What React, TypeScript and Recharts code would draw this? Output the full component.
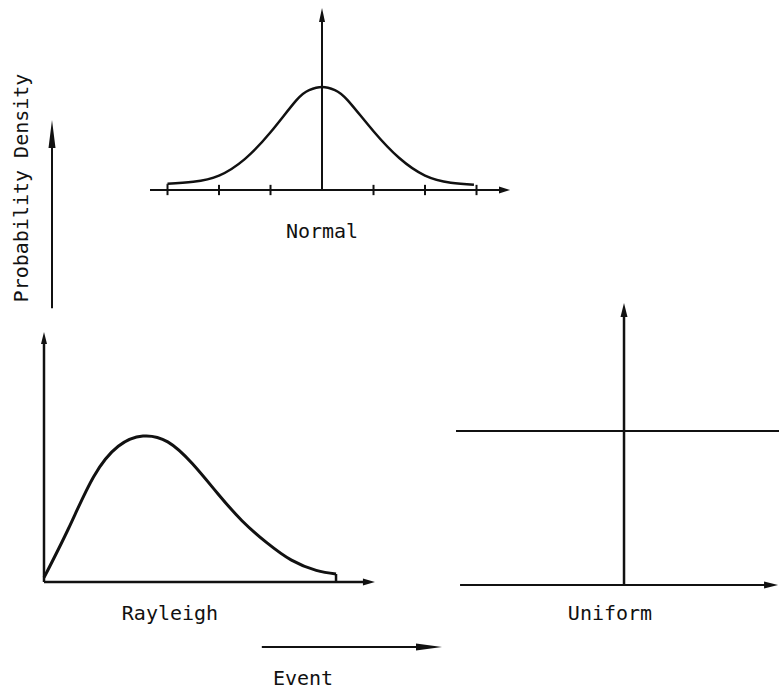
import React from 'react'
import { LineChart, Line, XAxis, YAxis, ReferenceLine } from 'recharts'

const W = 779
const H = 692
const INK = '#111'
const FONT = '"DejaVu Sans Mono", "Liberation Mono", monospace'

// Normal: x in standard deviations, density relative to the peak
const normalX = [-3, -2.5, -2, -1.5, -1, -0.5, -0.25, 0, 0.25, 0.5, 1, 1.5, 2, 2.5, 2.95]
const normalY = [0.06, 0.08, 0.14, 0.3, 0.56, 0.87, 0.97, 1.0, 0.97, 0.87, 0.57, 0.31, 0.14, 0.07, 0.05]
const normalTicks = [-3, -2, -1, 1, 2, 3]

// Rayleigh: x relative to the mode, density relative to the peak
const rayleighX = [0, 0.25, 0.5, 0.75, 1.0, 1.25, 1.5, 1.75, 2.0, 2.25, 2.5, 2.75, 2.95]
const rayleighY = [0.03, 0.37, 0.72, 0.93, 1.0, 0.96, 0.81, 0.61, 0.42, 0.27, 0.15, 0.08, 0.055]

// Uniform: constant density across the whole range
const uniformX = [-1.084, 1.0]
const uniformY = [1, 1]

const labels = {
  normal: 'Normal',
  rayleigh: 'Rayleigh',
  uniform: 'Uniform',
  x: 'Event',
  y: 'Probability Density',
}

const toRows = (xs: number[], ys: number[]) => xs.map((x, i) => ({ x, y: ys[i] }))

const normalData = toRows(normalX, normalY)
const rayleighData = toRows(rayleighX, rayleighY)
const uniformData = toRows(uniformX, uniformY)

// line with a filled arrow head at the second point of the segment
const arrow = (head: number, half: number, sw = 2) => (props: any) => {
  const { x1, y1, x2, y2 } = props
  const dx = x2 - x1
  const dy = y2 - y1
  const len = Math.hypot(dx, dy) || 1
  const ux = dx / len
  const uy = dy / len
  const bx = x2 - ux * head
  const by = y2 - uy * head
  const px = -uy * half
  const py = ux * half
  return (
    <g>
      <line x1={x1} y1={y1} x2={bx + ux * 2} y2={by + uy * 2} stroke={INK} strokeWidth={sw} />
      <polygon points={`${x2},${y2} ${bx + px},${by + py} ${bx - px},${by - py}`} fill={INK} />
    </g>
  )
}

const plain = (sw: number) => (props: any) => (
  <line x1={props.x1} y1={props.y1} x2={props.x2} y2={props.y2} stroke={INK} strokeWidth={sw} />
)

const layer: React.CSSProperties = { position: 'absolute', left: 0, top: 0 }
const textStyle = { fontFamily: FONT, fontSize: 20, fill: INK }

function NormalPanel() {
  return (
    <div style={layer}>
      <LineChart width={W} height={H} data={normalData} margin={{ left: 150, right: 267, top: 6, bottom: 494 }}>
        <XAxis type="number" dataKey="x" domain={[-3.34, 3.689]} allowDataOverflow hide />
        <YAxis type="number" domain={[-0.0777, 1.786]} allowDataOverflow hide />
        <ReferenceLine segment={[{ x: -3.34, y: 0 }, { x: 3.65, y: 0 }]} shape={arrow(11, 3.5)} />
        <ReferenceLine segment={[{ x: 0, y: 0 }, { x: 0, y: 1.767 }]} shape={arrow(14, 3)} />
        {normalTicks.map((t) => (
          <ReferenceLine key={t} segment={[{ x: t, y: -0.05 }, { x: t, y: 0.05 }]} shape={plain(2)} />
        ))}
        <ReferenceLine segment={[{ x: -3, y: 0.05 }, { x: -3, y: 0.06 }]} shape={plain(2)} />
        <Line type="natural" dataKey="y" stroke={INK} strokeWidth={2.5} dot={false} isAnimationActive={false} />
        <text x={322} y={238} textAnchor="middle" style={textStyle}>{labels.normal}</text>
      </LineChart>
    </div>
  )
}

function RayleighPanel() {
  return (
    <div style={layer}>
      <LineChart width={W} height={H} data={rayleighData} margin={{ left: 40, right: 401, top: 328, bottom: 102 }}>
        <XAxis type="number" dataKey="x" domain={[-0.0404, 3.374]} allowDataOverflow hide />
        <YAxis type="number" domain={[-0.0548, 1.74]} allowDataOverflow hide />
        <ReferenceLine segment={[{ x: 0, y: 0 }, { x: 3.343, y: 0 }]} shape={arrow(12, 3.5, 2.5)} />
        <ReferenceLine segment={[{ x: 0, y: 0 }, { x: 0, y: 1.712 }]} shape={arrow(12, 3, 2.5)} />
        <ReferenceLine segment={[{ x: 2.95, y: 0 }, { x: 2.95, y: 0.055 }]} shape={plain(2.5)} />
        <Line type="natural" dataKey="y" stroke={INK} strokeWidth={3} dot={false} isAnimationActive={false} />
        <text x={170} y={620} textAnchor="middle" style={textStyle}>{labels.rayleigh}</text>
      </LineChart>
    </div>
  )
}

function UniformPanel() {
  return (
    <div style={layer}>
      <LineChart width={W} height={H} data={uniformData} margin={{ left: 454, right: 0, top: 299, bottom: 100 }}>
        <XAxis type="number" dataKey="x" domain={[-1.097, 1.0]} allowDataOverflow hide />
        <YAxis type="number" domain={[-0.045, 1.857]} allowDataOverflow hide />
        <ReferenceLine segment={[{ x: -1.058, y: 0 }, { x: 0.994, y: 0 }]} shape={arrow(14, 3.5)} />
        <ReferenceLine segment={[{ x: 0, y: 0 }, { x: 0, y: 1.831 }]} shape={arrow(14, 3.5, 2.5)} />
        <Line type="linear" dataKey="y" stroke={INK} strokeWidth={2} dot={false} isAnimationActive={false} />
        <text x={610} y={620} textAnchor="middle" style={textStyle}>{labels.uniform}</text>
      </LineChart>
    </div>
  )
}

function Frame() {
  return (
    <div style={layer}>
      <LineChart width={W} height={H} data={[{ x: 0, y: 0 }]} margin={{ left: 52, right: 337, top: 120, bottom: 45 }}>
        <XAxis type="number" dataKey="x" domain={[0, 1]} allowDataOverflow hide />
        <YAxis type="number" domain={[0, 1]} allowDataOverflow hide />
        <ReferenceLine segment={[{ x: 0.538, y: 0 }, { x: 1, y: 0 }]} shape={arrow(26, 3.5)} />
        <ReferenceLine segment={[{ x: 0, y: 0.643 }, { x: 0, y: 1 }]} shape={arrow(28, 3.5)} />
        <text x={303} y={685} textAnchor="middle" style={textStyle}>{labels.x}</text>
        <text
          x={28}
          y={188}
          textAnchor="middle"
          transform="rotate(-90 28 188)"
          style={textStyle}
        >
          {labels.y}
        </text>
      </LineChart>
    </div>
  )
}

export default function App() {
  return (
    <div style={{ position: 'absolute', left: 0, top: 0, width: W, height: H, background: '#fff' }}>
      <Frame />
      <NormalPanel />
      <RayleighPanel />
      <UniformPanel />
    </div>
  )
}
